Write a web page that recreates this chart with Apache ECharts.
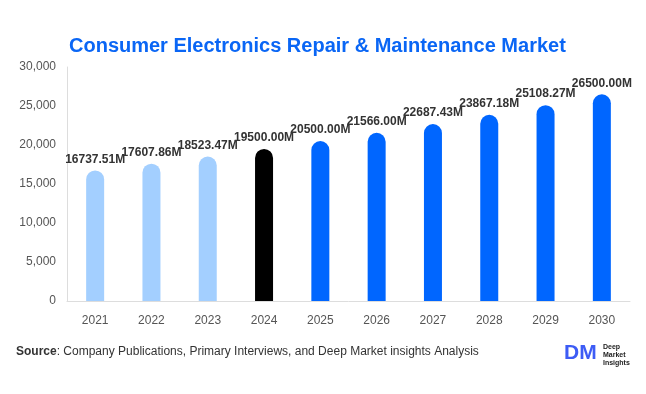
<!DOCTYPE html>
<html>
<head>
<meta charset="utf-8">
<script src="https://cdn.jsdelivr.net/npm/echarts@6/dist/echarts.min.js"></script>
<style>html,body{margin:0;padding:0;background:#fff}#c{width:646px;height:394px}</style>
</head>
<body>
<div id="c"></div>
<script>
const categories = ['2021','2022','2023','2024','2025','2026','2027','2028','2029','2030'];
const values = [16737.51, 17607.86, 18523.47, 19500.00, 20500.00, 21566.00, 22687.43, 23867.18, 25108.27, 26500.00];
const barColors = ['#a3cfff','#a3cfff','#a3cfff','#000000','#0066ff','#0066ff','#0066ff','#0066ff','#0066ff','#0066ff'];
const yTicks = [0, 5000, 10000, 15000, 20000, 25000, 30000];

const chart = echarts.init(document.getElementById('c'));
chart.setOption({
  animation: false,
  title: {
    text: 'Consumer Electronics Repair & Maintenance Market',
    left: 64, top: 31,
    textStyle: { color: '#0a66f5', fontSize: 20, fontWeight: 'bold', fontFamily: 'Liberation Sans, Arial, sans-serif' }
  },
  grid: { left: 67, right: 16, top: 67, bottom: 93, containLabel: false },
  xAxis: {
    type: 'category', data: categories,
    axisLine: { show: true, lineStyle: { color: '#dddddd' } },
    axisTick: { show: false },
    axisLabel: { color: '#555', fontSize: 12, margin: 14, fontFamily: 'Liberation Sans, Arial, sans-serif' }
  },
  yAxis: {
    type: 'value', min: yTicks[0], max: yTicks[yTicks.length-1], interval: 5000,
    axisLine: { show: true, lineStyle: { color: '#dddddd' } },
    axisTick: { show: false },
    splitLine: { show: false },
    axisLabel: { color: '#555', fontSize: 12, margin: 11, fontFamily: 'Liberation Sans, Arial, sans-serif',
      formatter: v => v.toLocaleString('en-US') }
  },
  series: [{
    type: 'bar',
    barWidth: 18,
    data: values.map((v, i) => ({ value: v, itemStyle: { color: barColors[i], borderRadius: [9, 9, 0, 0] } })),
    label: {
      show: true, position: 'top', distance: 5,
      color: '#333', fontSize: 12, fontWeight: 'bold', fontFamily: 'Liberation Sans, Arial, sans-serif',
      formatter: p => p.value.toFixed(2) + 'M'
    }
  }],
  graphic: [
    { type: 'text', left: 16, top: 346,
      style: { rich: { b: { fontWeight: 'bold', fontSize: 12, fill: '#333', fontFamily: 'Liberation Sans, Arial, sans-serif' },
                        n: { fontSize: 12, fill: '#333', fontFamily: 'Liberation Sans, Arial, sans-serif' } },
               text: '{b|Source}{n|: Company Publications, Primary Interviews, and Deep Market insights Analysis}' } },
    { type: 'text', left: 564, top: 343,
      style: { text: 'DM', fontSize: 21, fontWeight: 'bold', fill: '#3d5cf5', fontFamily: 'Liberation Sans, Arial, sans-serif' } },
    { type: 'text', left: 603, top: 343,
      style: { text: 'Deep\nMarket\nInsights', fontSize: 7, lineHeight: 8, fontWeight: 'bold', fill: '#222', fontFamily: 'Liberation Sans, Arial, sans-serif' } }
  ]
});
</script>
</body>
</html>
